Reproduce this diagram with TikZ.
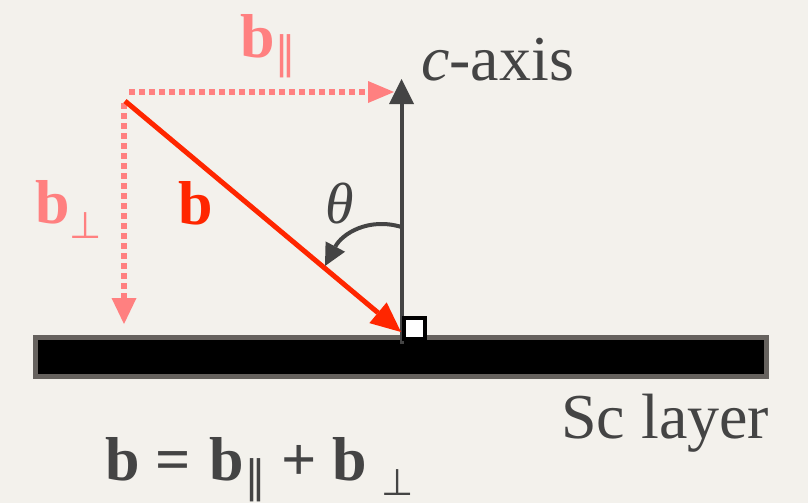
\documentclass[tikz,border=0pt]{standalone}
\usepackage{fontspec}
\setmainfont{Liberation Serif}
\newfontfamily\mysymfam{DejaVu Sans}
\newcommand\mypar{\raisebox{-12pt}{\fontsize{44}{44}\selectfont\mysymfam\mdseries ∥}}
\newcommand\myperp{\raisebox{-15pt}{\fontsize{37}{37}\selectfont\mysymfam\mdseries ⊥}}
\usetikzlibrary{arrows.meta}
\definecolor{bg}{RGB}{243,241,236}
\definecolor{salmon}{RGB}{255,128,128}
\definecolor{vred}{RGB}{255,38,0}
\definecolor{dgray}{RGB}{68,68,68}
\definecolor{bargray}{RGB}{102,98,94}
\begin{document}
\begin{tikzpicture}[x=1pt,y=-1pt,
  lbl/.style={inner sep=0pt, anchor=base west},
  bigfont/.style={font=\fontsize{62}{68}\selectfont\bfseries},
  textfont/.style={font=\fontsize{64}{70}\selectfont},
  dotarrow/.style={salmon, line width=6pt, dash pattern=on 6pt off 4pt},
]
\fill[bg] (0,0) rectangle (808,503);
\useasboundingbox (0,0) rectangle (808,503);

% points
\coordinate (hstart) at (129,92);
\coordinate (htip) at (394,92);
\coordinate (vstart) at (124,103);
\coordinate (vtip) at (124,324);
\coordinate (bstart) at (125,101);
\coordinate (btip) at (401,332);
\coordinate (axbot) at (401.5,344);
\coordinate (axtop) at (401.5,79);
\coordinate (thstart) at (401.5,227);
\coordinate (thtip) at (325,266);

% Sc layer bar
\draw[bargray, line width=5pt, fill=black] (35.5,337.5) rectangle (766.5,376.5);

% c-axis
\draw[dgray, line width=4pt, -{Triangle[length=25pt,width=25pt,line width=0pt]}] (axbot) -- (axtop);

% dotted components
\draw[dotarrow, -{Triangle[length=26pt,width=22pt,line width=0pt]}] (hstart) -- (htip);
\draw[dotarrow, -{Triangle[length=26pt,width=25pt,line width=0pt]}] (vstart) -- (vtip);

% vector b
\draw[vred, line width=5pt, -{Triangle[length=30pt,width=27pt,line width=0pt]}] (bstart) -- (btip);

% theta arc
\draw[dgray, line width=4pt, -{Triangle[length=22pt,width=22pt,line width=0pt]}]
  (thstart) .. controls (368,217) and (342,234) .. (thtip);

% right-angle square
\draw[black, line width=4pt, fill=white] (404,318) rectangle (424.5,338.5);

% labels
\node[lbl, bigfont, text=salmon] (bpar) at (240,57) {b\mypar};
\node[lbl, textfont, text=dgray] (caxis) at (421,80) {\textit{c}-axis};
\node[lbl, bigfont, text=salmon] (bperp) at (35,223) {b\myperp};
\node[lbl, bigfont, text=vred] (blabel) at (178,224) {b};
\node[lbl, font=\fontsize{58}{62}\selectfont\itshape, text=dgray] (theta) at (325,223) {θ};
\node[lbl, textfont, text=dgray] (sclayer) at (561,438) {Sc layer};
\node[lbl, bigfont, text=dgray] (eq) at (105,480) {b = \hspace{4pt}b\mypar\ + b\hspace{14pt}\myperp};
\end{tikzpicture}
\end{document}
